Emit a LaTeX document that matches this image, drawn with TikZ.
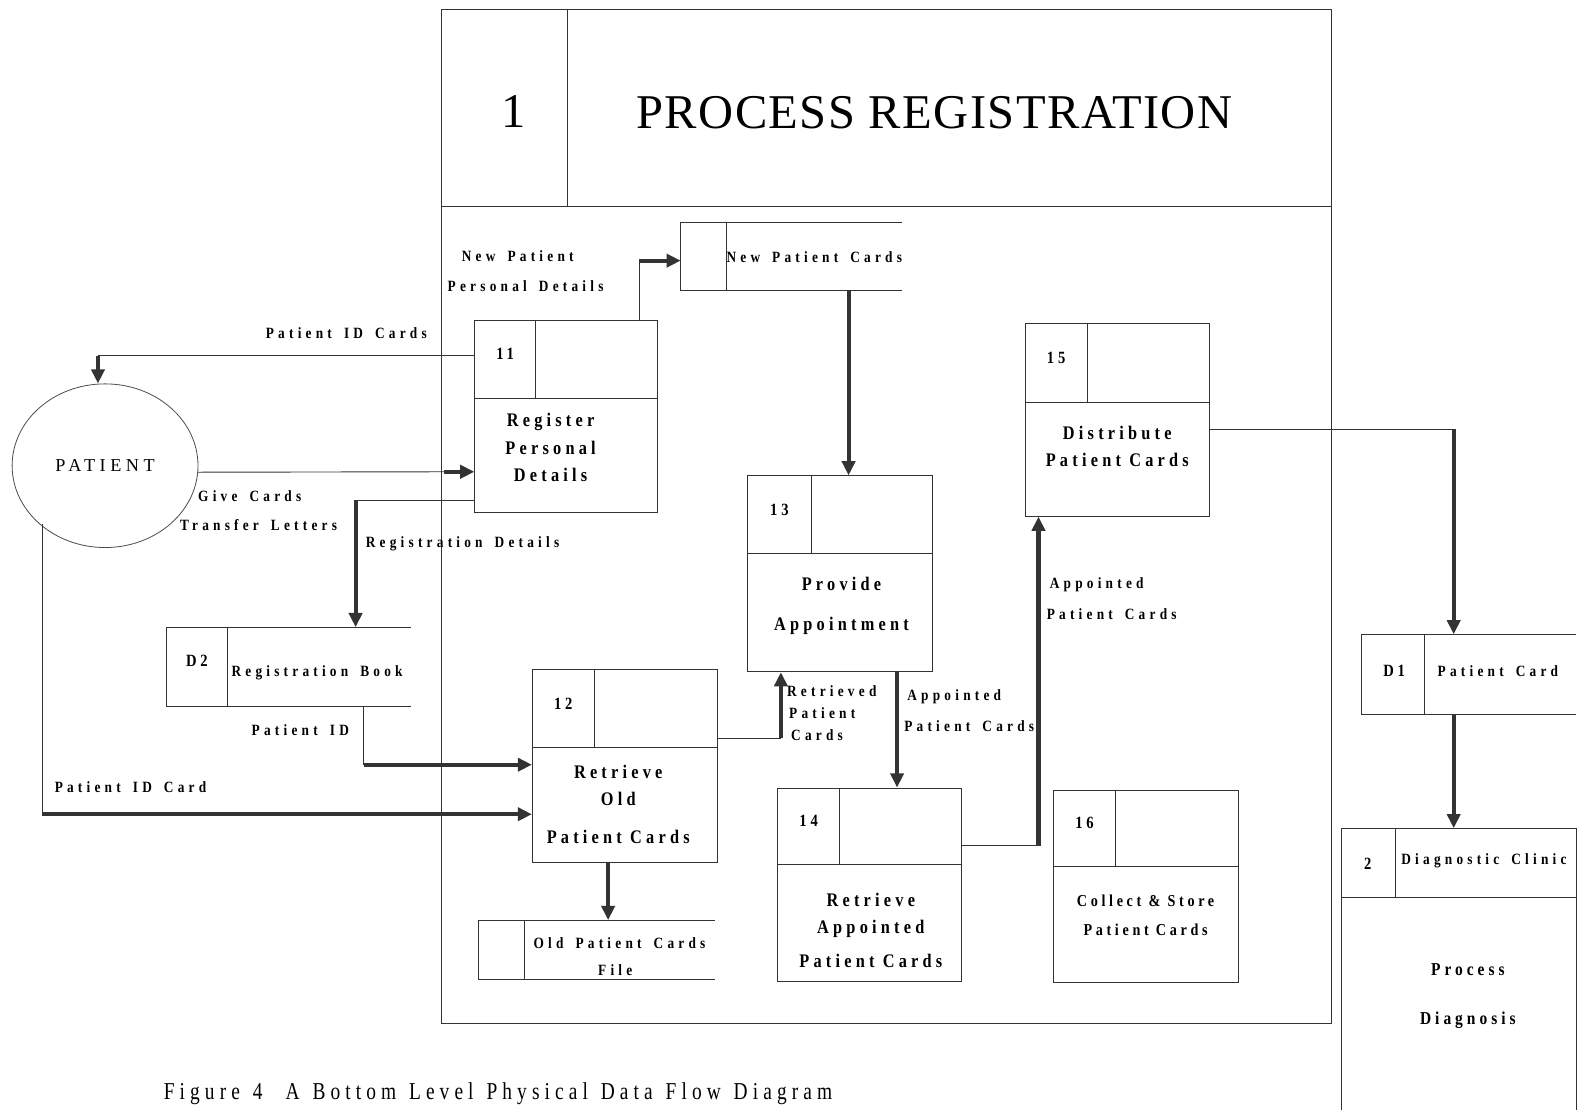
\documentclass[tikz,border=0pt]{standalone}
\usepackage{fontspec}
\setmainfont{Liberation Serif}
\newfontfamily\lblf[FakeStretch=0.85,LetterSpace=27,WordSpace=1.6]{Liberation Serif}
\newfontfamily\boxf[FakeStretch=0.85,LetterSpace=22]{Liberation Serif}
\newfontfamily\capf[FakeStretch=0.8,LetterSpace=21,WordSpace=1.3]{Liberation Serif}
\newfontfamily\titf[LetterSpace=3]{Liberation Serif}
\newfontfamily\patf[LetterSpace=25]{Liberation Serif}
\usetikzlibrary{arrows.meta,fit,shapes.geometric}

% process box: name, left, top, right, bottom, inner x, inner y, number
\newcommand\procbox[8]{%
  \node[pbox, fit={(#2,#3) (#4,#5)}] (#1) {};
  \draw[pline] (#2,#7) -- (#4,#7);
  \draw[pline] (#6,#3) -- (#6,#7);
  \node[num] (#1num) at ({(#2+#6)/2},{(#3+#7)/2-5}) {#8};
}
% open data store: name, left, top, inner x, right, bottom
\newcommand\dstore[6]{%
  \node[inner sep=0pt, fit={(#2,#3) (#5,#6)}] (#1) {};
  \draw[pline] (#5,#3) -- (#2,#3) -- (#2,#6) -- (#5,#6);
  \draw[pline] (#4,#3) -- (#4,#6);
}

\begin{document}
\begin{tikzpicture}[x=1pt,y=-1pt,
  pline/.style={line width=0.9pt, draw=black!80},
  pbox/.style={draw=black!80, line width=0.9pt, inner sep=0pt},
  bigflow/.style={line width=4pt, draw=black!80, -{Triangle[length=14pt,width=13pt]}},
  lbl/.style={font=\lblf\bfseries\fontsize{15.5}{17}\selectfont, inner sep=0pt, anchor=west, text=black},
  btxt/.style={font=\boxf\bfseries\fontsize{19}{27}\selectfont, inner sep=0pt, align=center, text=black},
  stxt/.style={font=\boxf\bfseries\fontsize{16.5}{29}\selectfont, inner sep=0pt, align=center, text=black},
  num/.style={font=\boxf\bfseries\fontsize{17}{20}\selectfont, inner sep=0pt, text=black},
]
\useasboundingbox (0,0) rectangle (1568,1099);

% outer frame of process 1
\node[pbox, fit={(437,9) (1318,1013)}] (frame) {};
\draw[pline] (437,204) -- (1318,204);
\draw[pline] (562,9) -- (562,204);
\node[font=\titf\fontsize{48}{52}\selectfont, inner sep=0pt] (one) at (508,110) {1};
\node[font=\titf\fontsize{48}{52}\selectfont, inner sep=0pt] (title) at (925,112) {PROCESS REGISTRATION};

% external entity
\node[ellipse, draw=black!70, line width=0.8pt, minimum width=184pt, minimum height=162pt, inner sep=0pt,
      font=\patf\fontsize{18}{20}\selectfont] (patient) at (104,461) {PATIENT};

% processes
\procbox{p11}{470}{317}{651}{507}{530}{394}{11}
\procbox{p12}{527}{663}{710}{854}{588}{740}{12}
\procbox{p13}{740}{471}{923}{665}{803}{548}{13}
\procbox{p14}{770}{780}{952}{972}{831}{856}{14}
\procbox{p15}{1015}{320}{1197}{511}{1076}{398}{15}
\procbox{p16}{1043}{782}{1226}{973}{1104}{858}{16}

\node[btxt] (t11) at (545,443) {Register\\Personal\\Details};
\node[btxt] (t12) at (612,796) {Retrieve\\Old\\[10pt]Patient Cards};
\node[btxt, font=\boxf\bfseries\fontsize{19}{40}\selectfont] (t13) at (833,600) {Provide\\Appointment};
\node[btxt] (t14) at (862,921) {Retrieve\\Appointed\\[6pt]Patient Cards};
\node[btxt] (t15) at (1106,442) {Distribute\\Patient Cards};
\node[stxt] (t16) at (1134,906) {Collect \& Store\\Patient Cards};

% process 2 (cut off)
\node[inner sep=0pt, fit={(1328,820) (1561,1099)}] (p2) {};
\draw[pline] (1328,1099) -- (1328,820) -- (1561,820) -- (1561,1099);
\draw[pline] (1328,888) -- (1561,888);
\draw[pline] (1381,820) -- (1381,888);
\node[num] (p2num) at (1354,855) {2};
\node[lbl] (p2name) at (1387,852) {Diagnostic Clinic};
\node[btxt, font=\boxf\bfseries\fontsize{18}{49}\selectfont] (t2) at (1453,986) {Process\\Diagnosis};

% data stores
\dstore{dsnew}{674}{220}{719}{893}{288}
\node[lbl] (dsnewt) at (719,255) {New Patient Cards};
\dstore{d2}{165}{621}{225}{407}{699}
\node[num] (d2num) at (195,654) {D2};
\node[lbl] (d2t) at (229,666) {Registration Book};
\dstore{dsold}{474}{911}{519}{708}{970}
\node[lbl] (dsoldt) at (528,934) {Old Patient Cards};
\node[lbl, anchor=center] (dsoldt2) at (609,960) {File};
\dstore{d1}{1348}{628}{1410}{1560}{707}
\node[num] (d1num) at (1380,664) {D1};
\node[lbl] (d1t) at (1423,664) {Patient Card};

% flows
\coordinate (c1) at (633,258);
\draw[pline] (p11.north -| c1) -- (c1);
\draw[bigflow] (c1) -- (dsnew.west |- c1);
\node[lbl] (l1a) at (457,254) {New Patient};
\node[lbl] (l1b) at (443,283) {Personal Details};

\coordinate (c2) at (97,352);
\draw[pline] (p11.west |- c2) -- (c2);
\draw[bigflow] (c2) -- (patient.north -| c2);
\node[lbl] (l2) at (263,330) {Patient ID Cards};

\coordinate (c3) at (440,467);
\draw[pline] (patient.-4) -- (c3);
\draw[bigflow] (c3) -- (p11.west |- c3);
\node[lbl] (l3a) at (196,491) {Give Cards};
\node[lbl] (l3b) at (178,520) {Transfer Letters};

\coordinate (c4) at (352,495);
\draw[pline] (p11.west |- c4) -- (c4);
\draw[bigflow] (c4) -- (d2.north -| c4);
\node[lbl] (l4) at (362,538) {Registration Details};

\coordinate (c5) at (360,757);
\draw[pline] (d2.south -| c5) -- (c5);
\draw[bigflow] (c5) -- (p12.west |- c5);
\node[lbl] (l5) at (249,723) {Patient ID};

\coordinate (c6) at (42,806);
\draw[pline] (patient.south west -| c6) -- (c6);
\draw[bigflow] (c6) -- (p12.west |- c6);
\node[lbl] (l6) at (54,779) {Patient ID Card};

\coordinate (c7) at (602,0);
\draw[bigflow] (p12.south -| c7) -- (dsold.north -| c7);

\coordinate (c8) at (773,731);
\draw[pline] (p12.east |- c8) -- (c8);
\draw[bigflow] (c8) -- (p13.south -| c8);
\node[lbl] (l8a) at (779,684) {Retrieved};
\node[lbl] (l8b) at (781,706) {Patient};
\node[lbl] (l8c) at (783,728) {Cards};

\coordinate (c9) at (840,0);
\draw[bigflow] (dsnew.south -| c9) -- (p13.north -| c9);

\coordinate (c10) at (888,0);
\draw[bigflow] (p13.south -| c10) -- (p14.north -| c10);
\node[lbl] (l10a) at (898,690) {Appointed};
\node[lbl] (l10b) at (895,719) {Patient Cards};

\coordinate (c11) at (1028,837);
\draw[pline] (p14.east |- c11) -- (c11);
\draw[bigflow] (c11) -- (p15.south -| c11);
\node[lbl] (l11a) at (1039,579) {Appointed};
\node[lbl] (l11b) at (1036,608) {Patient Cards};

\coordinate (c12) at (1439,425);
\draw[pline] (p15.east |- c12) -- (c12);
\draw[bigflow] (c12) -- (d1.north -| c12);

\coordinate (c13) at (1439,0);
\draw[bigflow] (d1.south -| c13) -- (p2.north -| c13);

% caption
\node[font=\capf\fontsize{24}{26}\selectfont, inner sep=0pt, anchor=west] (caption) at (162,1083)
  {Figure 4\hspace{10pt} A Bottom Level Physical Data Flow Diagram};
\end{tikzpicture}
\end{document}
